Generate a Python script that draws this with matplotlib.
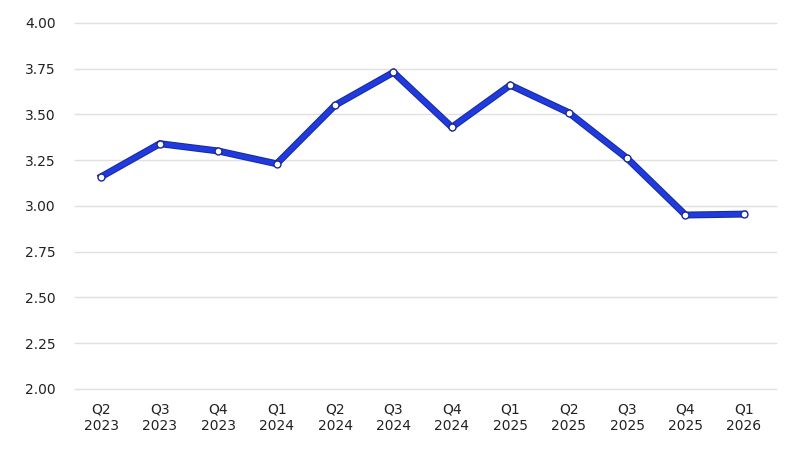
import matplotlib
matplotlib.use("Agg")
import matplotlib.pyplot as plt
import matplotlib.patheffects as pe

labels = ["Q2\n2023","Q3\n2023","Q4\n2023","Q1\n2024","Q2\n2024","Q3\n2024","Q4\n2024","Q1\n2025","Q2\n2025","Q3\n2025","Q4\n2025","Q1\n2026"]
values = [3.16, 3.34, 3.30, 3.23, 3.55, 3.73, 3.43, 3.66, 3.51, 3.26, 2.95, 2.955]
yticks = [2.00, 2.25, 2.50, 2.75, 3.00, 3.25, 3.50, 3.75, 4.00]

fig = plt.figure(figsize=(8, 4.5), dpi=100)
ax = fig.add_axes([0.094, 0.136, 0.876, 0.813])
x = list(range(len(values)))
ax.plot(x, values, color="#1f3be0", lw=3.5, solid_joinstyle="miter",
        path_effects=[pe.Stroke(linewidth=5, foreground="#1a2a9a"), pe.Normal()], zorder=3)
ax.plot(x, values, ls="none", marker="o", ms=5, mfc="white", mec="#1a2a9a", mew=1.0, zorder=4)
ax.set_ylim(2.0, 4.0)
ax.set_xlim(-0.45, len(values) - 0.45)
ax.set_yticks(yticks)
ax.set_yticklabels([f"{v:.2f}" for v in yticks])
ax.set_xticks(x)
ax.set_xticklabels(labels)
ax.grid(axis="y", color="#e0e0e0", lw=1, clip_on=False)
ax.set_axisbelow(True)
for s in ax.spines.values():
    s.set_visible(False)
ax.tick_params(length=0, labelsize=10, colors="#222222")
ax.tick_params(axis="y", pad=14)
ax.tick_params(axis="x", pad=10)
fig.savefig("out.png")
